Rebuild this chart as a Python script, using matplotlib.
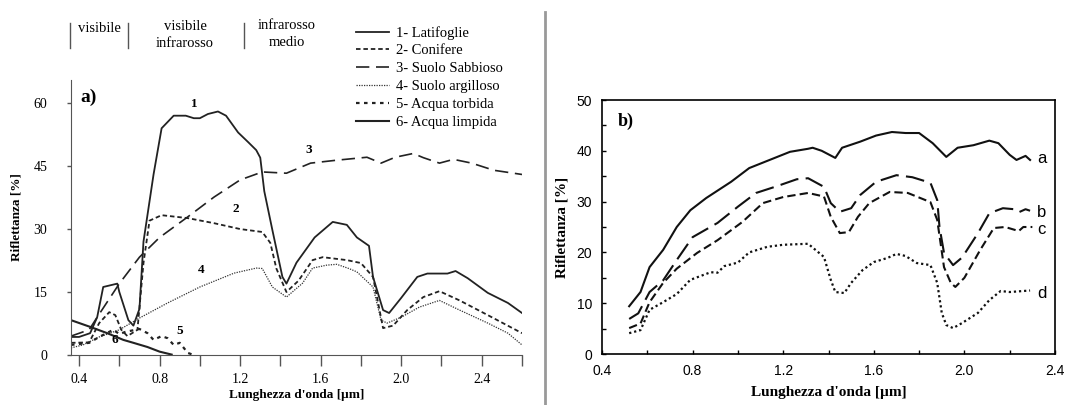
import numpy as np
import matplotlib
matplotlib.use('Agg')
import matplotlib.pyplot as plt
from matplotlib.lines import Line2D

# Pannello a) - firme spettrali
lat_x = [0.36, 0.40, 0.455, 0.49, 0.52, 0.59, 0.60, 0.645, 0.67, 0.70, 0.72, 0.77, 0.81, 0.87, 0.93, 0.97, 1.00,
         1.04, 1.09, 1.13, 1.19, 1.24, 1.28, 1.30, 1.32, 1.36, 1.41, 1.43, 1.48, 1.57, 1.66, 1.73, 1.78, 1.84,
         1.86, 1.91, 1.94, 2.00, 2.08, 2.13, 2.23, 2.27, 2.33, 2.43, 2.53, 2.60]
lat_y = [4.3, 4.3, 5.2, 9.0, 16.2, 17.0, 15.0, 8.3, 7.0, 11.0, 27.0, 43.0, 54.0, 57.0, 57.0, 56.4, 56.4,
         57.4, 58.0, 57.0, 53.0, 50.7, 48.8, 47.0, 39.0, 29.8, 18.6, 17.0, 22.0, 28.0, 31.7, 31.0, 28.0, 26.0,
         18.6, 10.7, 10.0, 13.6, 18.6, 19.4, 19.4, 20.0, 18.3, 14.8, 12.4, 10.0]

con_x = [0.36, 0.45, 0.50, 0.55, 0.58, 0.61, 0.64, 0.69, 0.72, 0.75, 0.81, 0.94, 1.07, 1.20, 1.31, 1.35, 1.38,
         1.43, 1.49, 1.56, 1.61, 1.73, 1.80, 1.86, 1.91, 1.96, 2.03, 2.11, 2.19, 2.29, 2.43, 2.60]
con_y = [2.9, 3.0, 7.6, 10.2, 9.5, 6.0, 4.5, 6.0, 21.9, 32.0, 33.3, 32.6, 31.4, 30.0, 29.3, 26.7, 20.6,
         15.0, 17.7, 22.6, 23.3, 22.6, 21.9, 18.6, 6.4, 7.0, 10.7, 13.8, 15.2, 13.0, 9.5, 5.2]

sab_x = [0.36, 0.45, 0.49, 0.60, 0.70, 0.80, 0.94, 1.07, 1.20, 1.31, 1.43, 1.55, 1.68, 1.83, 1.90, 1.97,
         2.06, 2.11, 2.19, 2.26, 2.35, 2.46, 2.60]
sab_y = [4.5, 6.0, 9.0, 17.0, 23.3, 28.0, 32.9, 37.6, 41.7, 43.6, 43.3, 45.7, 46.4, 47.1, 45.7, 47.1,
         48.0, 47.0, 45.7, 46.6, 45.7, 44.0, 43.0]

arg_x = [0.36, 0.42, 0.50, 0.60, 0.70, 0.84, 1.00, 1.17, 1.28, 1.31, 1.36, 1.43, 1.51, 1.56, 1.63, 1.68,
         1.74, 1.78, 1.86, 1.90, 1.93, 2.00, 2.09, 2.19, 2.29, 2.43, 2.53, 2.60]
arg_y = [1.7, 2.4, 4.3, 6.0, 8.8, 12.4, 16.2, 19.5, 20.7, 20.6, 16.2, 13.8, 17.1, 20.7, 21.4, 21.6,
         20.6, 19.8, 16.2, 8.3, 7.6, 9.0, 11.4, 13.0, 10.7, 7.6, 5.2, 2.4]

tor_x = [0.36, 0.45, 0.50, 0.57, 0.60, 0.63, 0.70, 0.74, 0.77, 0.81, 0.84, 0.87, 0.90, 0.94, 0.97]
tor_y = [2.4, 2.9, 4.3, 6.0, 5.0, 5.5, 6.2, 5.2, 3.6, 4.5, 4.0, 2.4, 2.9, 0.5, 0.0]

lim_x = [0.36, 0.455, 0.54, 0.62, 0.67, 0.74, 0.80, 0.86]
lim_y = [8.3, 6.7, 5.2, 3.6, 2.9, 1.9, 0.8, 0.1]

# Pannello b)
a_x = [0.52, 0.57, 0.61, 0.67, 0.73, 0.79, 0.86, 0.97, 1.05, 1.14, 1.23, 1.31, 1.33, 1.37, 1.43, 1.46,
       1.54, 1.61, 1.68, 1.74, 1.80, 1.86, 1.92, 1.97, 2.04, 2.11, 2.15, 2.20, 2.23, 2.27, 2.29]
a_y = [9.4, 12.2, 17.1, 20.5, 25.0, 28.3, 30.7, 33.9, 36.6, 38.2, 39.8, 40.4, 40.6, 40.0, 38.6, 40.6,
       41.8, 43.0, 43.7, 43.5, 43.5, 41.5, 38.8, 40.6, 41.1, 42.0, 41.5, 39.2, 38.2, 39.0, 38.2]

b_x = [0.52, 0.56, 0.61, 0.67, 0.73, 0.80, 0.91, 1.00, 1.08, 1.17, 1.26, 1.31, 1.38, 1.41, 1.45, 1.50,
       1.54, 1.61, 1.70, 1.77, 1.85, 1.88, 1.89, 1.91, 1.95, 1.99, 2.06, 2.11, 2.17, 2.22, 2.24, 2.27, 2.29]
b_y = [6.9, 8.0, 12.2, 14.5, 18.5, 23.0, 25.8, 29.0, 31.7, 33.0, 34.4, 34.6, 32.9, 29.7, 28.0, 28.7,
       31.3, 33.9, 35.2, 34.8, 33.7, 30.3, 25.0, 19.9, 17.5, 19.0, 23.8, 27.7, 28.7, 28.5, 27.9, 28.5, 28.2]

c_x = [0.52, 0.57, 0.61, 0.67, 0.73, 0.82, 0.91, 1.02, 1.11, 1.20, 1.31, 1.38, 1.41, 1.45, 1.49, 1.53,
       1.58, 1.67, 1.75, 1.85, 1.88, 1.91, 1.94, 1.96, 2.00, 2.07, 2.13, 2.18, 2.24, 2.26, 2.30]
c_y = [5.1, 6.0, 10.2, 14.0, 16.8, 19.9, 22.4, 26.0, 29.7, 30.9, 31.7, 31.0, 27.0, 23.8, 24.0, 27.0,
       29.7, 31.9, 31.7, 29.9, 26.4, 17.1, 14.0, 13.2, 15.0, 20.5, 24.8, 25.0, 24.2, 25.0, 25.0]

d_x = [0.52, 0.57, 0.61, 0.67, 0.73, 0.79, 0.88, 0.91, 0.94, 1.00, 1.05, 1.13, 1.20, 1.31, 1.38, 1.41,
       1.43, 1.47, 1.50, 1.55, 1.60, 1.66, 1.70, 1.74, 1.79, 1.85, 1.88, 1.90, 1.92, 1.95, 1.99, 2.06,
       2.11, 2.16, 2.20, 2.26, 2.29]
d_y = [4.1, 4.7, 8.7, 10.2, 11.8, 14.6, 16.1, 16.0, 17.3, 18.0, 20.0, 21.1, 21.5, 21.7, 19.1, 14.6,
       12.2, 12.0, 14.0, 16.5, 18.1, 18.9, 19.7, 19.3, 17.9, 17.5, 14.0, 8.1, 5.7, 5.1, 6.1, 8.1,
       10.6, 12.4, 12.2, 12.4, 12.5]

etichette_a = ['1- Latifoglie', '2- Conifere', '3- Suolo Sabbioso', '4- Suolo argilloso',
               '5- Acqua torbida', '6- Acqua limpida']
regioni = ['visibile', 'visibile\ninfrarosso', 'infrarosso\nmedio']

serif = 'Liberation Serif'

fig = plt.figure(figsize=(10.66, 4.05), dpi=100)

# ---------------- pannello a ----------------
ax1 = fig.add_axes([71 / 1066, 50 / 405, 451 / 1066, 275 / 405])
l1, = ax1.plot(lat_x, lat_y, color='#222', lw=1.3)
l2, = ax1.plot(con_x, con_y, color='#222', lw=1.3, dashes=(2.5, 1.6))
l3, = ax1.plot(sab_x, sab_y, color='#222', lw=1.2, dashes=(8, 4))
l4, = ax1.plot(arg_x, arg_y, color='#333', lw=0.9, dashes=(1, 1))
l5, = ax1.plot(tor_x, tor_y, color='#222', lw=1.6, dashes=(1.6, 2))
l6, = ax1.plot(lim_x, lim_y, color='#222', lw=1.5)

ax1.set_xlim(0.36, 2.6)
ax1.set_ylim(0, 65.5)
ax1.spines['top'].set_visible(False)
ax1.spines['right'].set_visible(False)
ax1.spines['left'].set_color('#555')
ax1.spines['bottom'].set_color('#555')
ax1.set_xticks(np.arange(0.4, 2.61, 0.2))
ax1.set_xticklabels(['0.4', '', '0.8', '', '1.2', '', '1.6', '', '2.0', '', '2.4', ''])
ax1.set_yticks([0, 15, 30, 45, 60])
ax1.tick_params(axis='x', length=8, width=1, color='#555', pad=5, labelsize=10)
ax1.tick_params(axis='y', length=3, width=1, color='#555', pad=14, labelsize=10)
for lab in ax1.get_xticklabels() + ax1.get_yticklabels():
    lab.set_family(serif)
ax1.set_ylabel('Riflettanza [%]', family=serif, fontweight='bold', fontsize=9.5, labelpad=8)
ax1.set_xlabel("Lunghezza d'onda [µm]", family=serif, fontweight='bold', fontsize=9.5, labelpad=2)

for txt, x, y in [('1', 0.97, 58.3), ('2', 1.18, 33.3), ('3', 1.54, 47.5), ('4', 1.005, 18.8),
                  ('5', 0.90, 4.3), ('6', 0.58, 2.2)]:
    ax1.text(x, y, txt, family=serif, fontweight='bold', fontsize=9.5, ha='center', va='bottom')

fig.text(80 / 1066, 1 - 97 / 405, 'a)', family=serif, fontweight='bold', fontsize=14, va='center')

# intestazioni delle regioni spettrali
for txt, xc, yc in zip(regioni, [99, 185, 287], [28, 35, 34]):
    fig.text(xc / 1066, 1 - yc / 405, txt, family=serif, fontsize=10.5, ha='center', va='center',
             linespacing=1.45)
for xb in [70, 128, 244]:
    fig.add_artist(Line2D([xb / 1066, xb / 1066], [1 - 23 / 405, 1 - 48 / 405], color='#555', lw=1))

fig.legend([l1, l2, l3, l4, l5, l6], etichette_a, loc='upper left',
           bbox_to_anchor=(350 / 1066, 1 - 20 / 405), frameon=False, handlelength=2.3,
           handletextpad=0.45, labelspacing=0.32, borderaxespad=0,
           prop={'family': serif, 'size': 10.5})

# separatore
fig.add_artist(Line2D([545 / 1066, 545 / 1066], [0, 1 - 12 / 405], color='#999', lw=2))

# ---------------- pannello b ----------------
ax2 = fig.add_axes([602 / 1066, 51 / 405, 453 / 1066, 254 / 405])
ax2.plot(a_x, a_y, color='#111', lw=1.5)
ax2.plot(b_x, b_y, color='#111', lw=1.5, dashes=(9, 3.5))
ax2.plot(c_x, c_y, color='#111', lw=1.5, dashes=(4, 2))
ax2.plot(d_x, d_y, color='#111', lw=1.6, dashes=(1, 1.3))
ax2.set_xlim(0.4, 2.4)
ax2.set_ylim(0, 50)
ax2.set_xticks(np.arange(0.4, 2.41, 0.2))
ax2.set_xticklabels(['0.4', '', '0.8', '', '1.2', '', '1.6', '', '2.0', '', '2.4'])
ax2.set_yticks(np.arange(0, 51, 5))
ax2.set_yticklabels(['0', '', '10', '', '20', '', '30', '', '40', '', '50'])
ax2.tick_params(direction='in', length=3, width=1, pad=7, labelsize=10)
for lab in ax2.get_xticklabels() + ax2.get_yticklabels():
    lab.set_family('Liberation Sans')
for sp in ax2.spines.values():
    sp.set_linewidth(1.2)
ax2.set_ylabel('Riflettanza [%]', family=serif, fontweight='bold', fontsize=11, labelpad=6)
ax2.set_xlabel("Lunghezza d'onda [µm]", family=serif, fontweight='bold', fontsize=11, labelpad=6)
ax2.text(0.035, 0.95, 'b)', transform=ax2.transAxes, family=serif, fontweight='bold', fontsize=13,
         va='top')
for txt, y in [('a', 38.5), ('b', 27.8), ('c', 24.6), ('d', 12.0)]:
    ax2.text(2.32, y, txt, family='Liberation Sans', fontsize=12, va='center')

fig.savefig('out.png', dpi=100)
